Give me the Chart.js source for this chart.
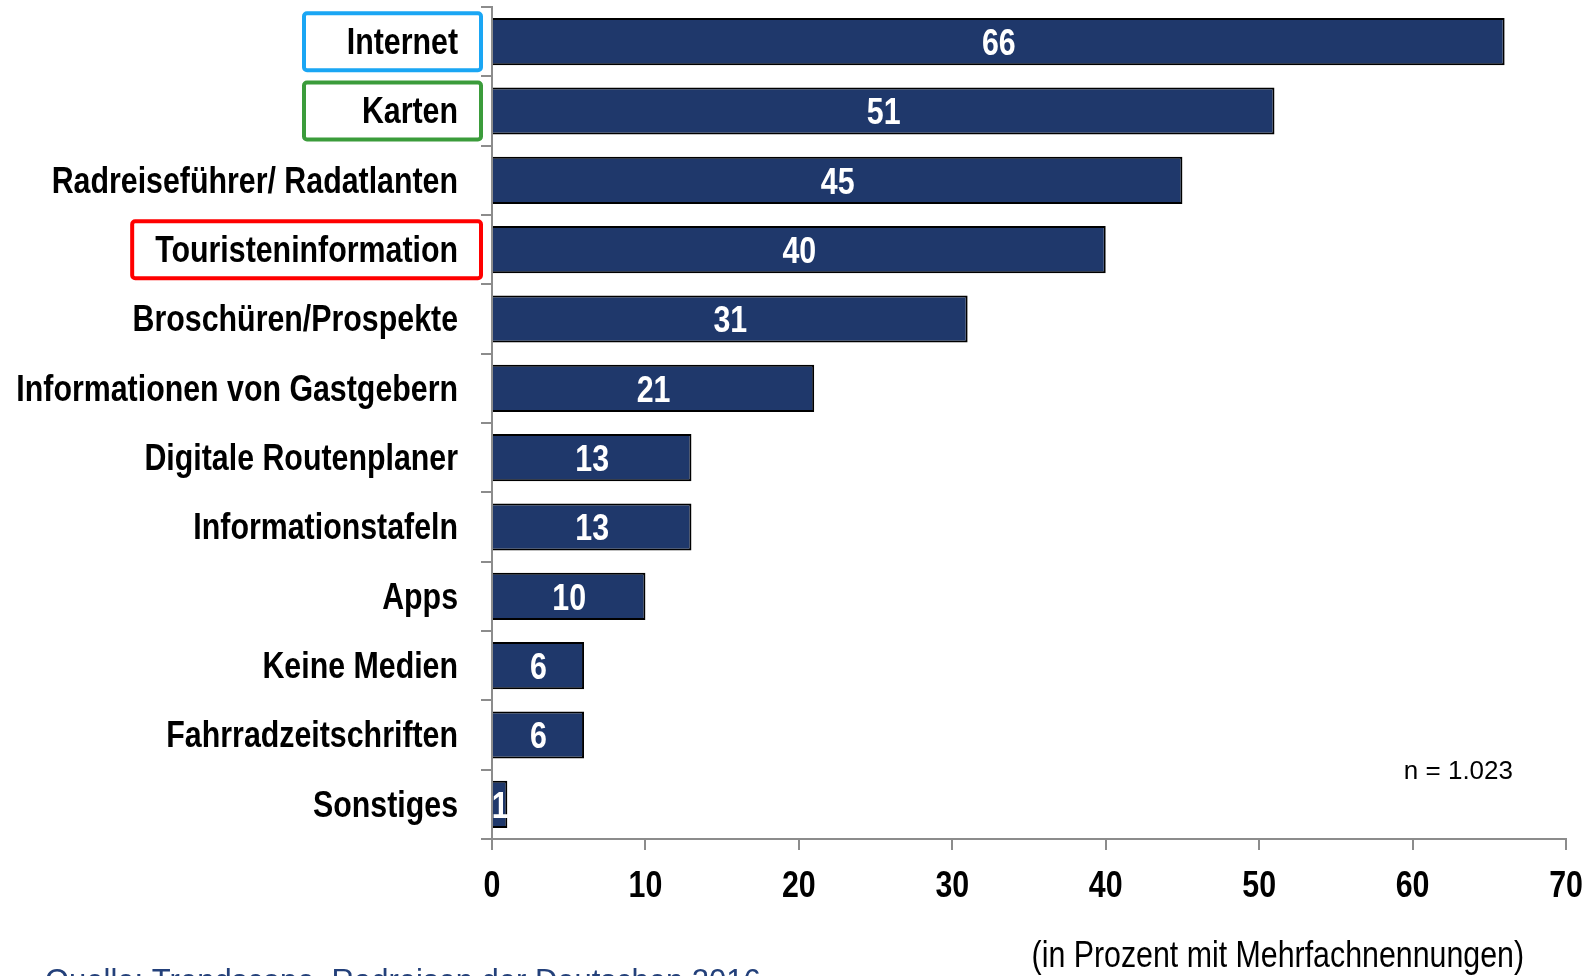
<!DOCTYPE html>
<html>
<head>
<meta charset="utf-8">
<script src="https://cdn.jsdelivr.net/npm/chart.js@4.4.0/dist/chart.umd.min.js"></script>
<style>
  html, body { margin: 0; padding: 0; background: #fff; overflow: hidden; }
</style>
</head>
<body>
<canvas id="mediaChart" width="1591" height="976"></canvas>
<script>
// Data
const categories = ['Internet', 'Karten', 'Radreiseführer/ Radatlanten', 'Touristeninformation', 'Broschüren/Prospekte',
    'Informationen von Gastgebern', 'Digitale Routenplaner', 'Informationstafeln', 'Apps', 'Keine Medien',
    'Fahrradzeitschriften', 'Sonstiges'];
const shares = [66, 51, 45, 40, 31, 21, 13, 13, 10, 6, 6, 1];
const xTicks = [0, 10, 20, 30, 40, 50, 60, 70];
const highlighted = ['Internet', 'Karten', 'Touristeninformation'];
const highlightColors = ['#1aa6f4', '#3b9c3b', '#ff0000'];
const axisTitle = '(in Prozent mit Mehrfachnennungen)';
const sampleNote = 'n = 1.023';
const sourceNote = 'Quelle: Trendscope, Radreisen der Deutschen 2016';

const SANS = '"Liberation Sans", Arial, sans-serif';
const NARROW = 0.82;   // Arial Narrow look: squeeze Liberation Sans horizontally
const GRAY = '#8c8c8c';

function narrowText(ctx, text, x, y) {
    ctx.save();
    ctx.translate(x, y);
    ctx.scale(NARROW, 1);
    ctx.fillText(text, 0, 0);
    ctx.restore();
}

// Labels, boxes and notes drawn on top
const annotations = {
    id: 'annotations',
    afterDatasetsDraw(chart) {
        const ctx = chart.ctx;
        const meta = chart.getDatasetMeta(0);
        ctx.save();
        ctx.fillStyle = '#ffffff';
        ctx.font = 'bold 37px ' + SANS;
        ctx.textAlign = 'center';
        ctx.textBaseline = 'middle';
        meta.data.forEach((bar, i) => {
            narrowText(ctx, String(shares[i]), (bar.base + bar.x) / 2, bar.y + 3);
        });
        ctx.restore();
    },
    afterDraw(chart) {
        const ctx = chart.ctx;
        const y = chart.scales.y;
        const x = chart.scales.x;
        ctx.save();

        // category labels
        ctx.fillStyle = '#000';
        ctx.font = 'bold 37px ' + SANS;
        ctx.textAlign = 'right';
        ctx.textBaseline = 'middle';
        categories.forEach((name, i) => {
            narrowText(ctx, name, y.right - 34, y.getPixelForValue(i) + 2);
        });

        // x tick labels
        ctx.textAlign = 'center';
        x.ticks.forEach(t => {
            narrowText(ctx, String(t.value), x.getPixelForValue(t.value), 887);
        });

        // boxes round highlighted labels
        ctx.lineWidth = 4;
        highlighted.forEach((name, k) => {
            const idx = categories.indexOf(name);
            const cy = y.getPixelForValue(idx);
            const right = y.right - 11;
            const textLeft = y.right - 34 - ctx.measureText(name).width * NARROW;
            const left = Math.min(right - 177, textLeft - 23);
            ctx.strokeStyle = highlightColors[k];
            ctx.beginPath();
            ctx.roundRect(left, cy - 28.5, right - left, 57, 3);
            ctx.stroke();
        });

        // axis title
        ctx.font = '37px ' + SANS;
        ctx.textAlign = 'right';
        narrowText(ctx, axisTitle, x.right - 42, 957);

        // sample size
        ctx.font = '26px ' + SANS;
        ctx.fillText(sampleNote, x.right - 53, 772);

        // source (cut off at the bottom edge)
        ctx.fillStyle = '#23407a';
        ctx.font = '31px ' + SANS;
        ctx.textAlign = 'left';
        ctx.textBaseline = 'alphabetic';
        ctx.fillText(sourceNote, 45, 991);
        ctx.restore();
    }
};

new Chart(document.getElementById('mediaChart').getContext('2d'), {
    type: 'bar',
    data: {
        labels: categories,
        datasets: [{
            data: shares,
            backgroundColor: '#1f386b',
            borderColor: '#000000',
            borderWidth: 2,
            barPercentage: 0.68,
            categoryPercentage: 1
        }]
    },
    options: {
        indexAxis: 'y',
        responsive: false,
        animation: false,
        layout: { padding: { top: 7, right: 25, left: 0, bottom: 0 } },
        scales: {
            x: {
                type: 'linear', min: 0, max: 70,
                afterBuildTicks: (s) => { s.ticks = xTicks.map(v => ({ value: v })); },
                afterFit: (s) => { s.height = 137; s.paddingLeft = 0; s.paddingRight = 0; },
                grid: { drawOnChartArea: false, tickLength: 11, color: GRAY, lineWidth: 2 },
                border: { color: GRAY, width: 2 },
                ticks: { display: false }
            },
            y: {
                type: 'category', offset: true,
                afterFit: (s) => { s.width = 492; s.paddingTop = 0; s.paddingBottom = 0; },
                grid: { offset: true, drawOnChartArea: false, tickLength: 11, color: GRAY, lineWidth: 2 },
                border: { color: GRAY, width: 2 },
                ticks: { display: false, autoSkip: false }
            }
        },
        plugins: {
            legend: { display: false },
            tooltip: { enabled: false }
        }
    },
    plugins: [annotations]
});
</script>
</body>
</html>
